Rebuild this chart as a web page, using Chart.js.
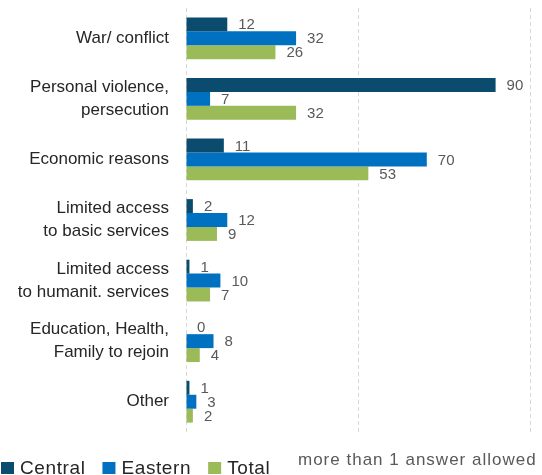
<!DOCTYPE html>
<html>
<head>
<meta charset="utf-8">
<script src="https://cdn.jsdelivr.net/npm/chart.js@4/dist/chart.umd.min.js"></script>
<style>
  html, body { margin: 0; padding: 0; background: #fff; }
  #wrap { position: relative; width: 542px; height: 475px; }
</style>
</head>
<body>
<div id="wrap"><canvas id="c"></canvas></div>
<script>
const categories = [
  ["War/ conflict"],
  ["Personal violence,", "persecution"],
  ["Economic reasons"],
  ["Limited access", "to basic services"],
  ["Limited access", "to humanit. services"],
  ["Education, Health,", "Family to rejoin"],
  ["Other"]
];
const seriesNames = ["Central", "Eastern", "Total"];
const central = [12, 90, 11, 2, 1, 0, 1];
const eastern = [32, 7, 70, 12, 10, 8, 3];
const total = [26, 32, 53, 9, 7, 4, 2];
const xTicks = [0, 50, 100];
const note = "more than 1 answer allowed";

const colors = ["#0B4C6E", "#0070C0", "#9BBB59"];
const FONT = "'Liberation Sans', Arial, sans-serif";

const valueLabels = {
  id: "valueLabels",
  afterDatasetsDraw(chart) {
    const ctx = chart.ctx;
    ctx.save();
    ctx.font = "15px " + FONT;
    ctx.fillStyle = "#595959";
    ctx.textAlign = "left";
    ctx.textBaseline = "middle";
    chart.data.datasets.forEach((ds, di) => {
      const meta = chart.getDatasetMeta(di);
      meta.data.forEach((el, i) => {
        ctx.fillText(String(ds.data[i]), el.x + 11, el.y + 1);
      });
    });
    ctx.restore();
  }
};

const customLegend = {
  id: "customLegend",
  afterDraw(chart) {
    const ctx = chart.ctx;
    ctx.save();
    ctx.font = "19px " + FONT;
    ctx.textBaseline = "alphabetic";
    ctx.textAlign = "left";
    if ("letterSpacing" in ctx) ctx.letterSpacing = "0.6px";
    let x = 1;
    const top = 462;
    chart.data.datasets.forEach((ds) => {
      ctx.fillStyle = ds.backgroundColor;
      ctx.fillRect(x, top, 13, 12);
      x += 19;
      ctx.fillStyle = "#262626";
      ctx.fillText(ds.label, x, 474);
      x += ctx.measureText(ds.label).width + 17;
    });
    ctx.font = "17px " + FONT;
    ctx.fillStyle = "#595959";
    ctx.textAlign = "left";
    if ("letterSpacing" in ctx) ctx.letterSpacing = "1px";
    ctx.fillText(note, 298, 465);
    ctx.restore();
  }
};

new Chart(document.getElementById("c"), {
  type: "bar",
  data: {
    labels: categories,
    datasets: [
      { label: seriesNames[0], data: central, backgroundColor: colors[0] },
      { label: seriesNames[1], data: eastern, backgroundColor: colors[1] },
      { label: seriesNames[2], data: total, backgroundColor: colors[2] }
    ]
  },
  options: {
    indexAxis: "y",
    responsive: true,
    maintainAspectRatio: false,
    animation: false,
    categoryPercentage: 0.69,
    barPercentage: 1.0,
    layout: { padding: { top: 8, right: 12, bottom: 43, left: 0 } },
    plugins: {
      legend: { display: false },
      tooltip: { enabled: false }
    },
    scales: {
      x: {
        min: xTicks[0],
        max: xTicks[xTicks.length - 1],
        afterBuildTicks(scale) { scale.ticks = xTicks.map(v => ({ value: v })); },
        ticks: { display: false },
        grid: { color: "#D9D9D9", lineWidth: 1, drawTicks: false },
        border: { display: false, dash: [4, 3] },
        afterFit(scale) { scale.height = 0; }
      },
      y: {
        grid: { display: false, drawTicks: false },
        border: { display: false },
        ticks: {
          color: "#262626",
          font: { family: FONT, size: 17, lineHeight: 1.35 },
          padding: 17
        },
        afterFit(scale) {
          scale.width = 186;
          scale.paddingTop = 0;
          scale.paddingBottom = 0;
        }
      }
    }
  },
  plugins: [valueLabels, customLegend]
});
</script>
</body>
</html>
